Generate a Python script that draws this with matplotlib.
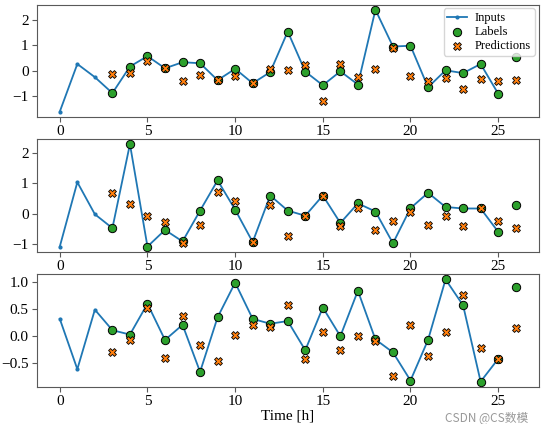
import numpy as np
import matplotlib.pyplot as plt

plt.rcParams['font.family'] = ['Liberation Serif', 'DejaVu Serif']
plt.rcParams['font.size'] = 11

input_t = np.arange(0, 26)
label_t = np.arange(3, 27)

inputs_1 = [-1.62, 0.26, -0.26, -0.89, 0.16, 0.57, 0.09, 0.33, 0.29, -0.38, 0.07, -0.5, -0.06,
            1.54, -0.04, -0.58, -0.03, -0.55, 2.4, 0.95, 0.98, -0.66, 0.01, -0.1, 0.26, -0.91]
labels_1 = [-0.89, 0.16, 0.57, 0.09, 0.33, 0.29, -0.38, 0.07, -0.5, -0.06, 1.54, -0.04,
            -0.58, -0.03, -0.55, 2.4, 0.95, 0.98, -0.66, 0.01, -0.1, 0.26, -0.91, 0.53]
preds_1 = [-0.13, -0.08, 0.36, 0.09, -0.41, -0.17, -0.38, -0.2, -0.5, 0.07, 0.03, 0.21,
           -1.2, 0.25, -0.26, 0.08, 0.88, -0.2, -0.41, -0.3, -0.72, -0.33, -0.41, -0.37]

inputs_2 = [-1.09, 1.04, -0.02, -0.48, 2.3, -1.09, -0.54, -0.92, 0.1, 1.1, 0.13, -0.94, 0.6,
            0.1, -0.07, 0.6, -0.31, 0.34, 0.07, -0.98, 0.18, 0.69, 0.22, 0.17, 0.17, -0.6]
labels_2 = [-0.48, 2.3, -1.09, -0.54, -0.92, 0.1, 1.1, 0.13, -0.94, 0.6, 0.1, -0.07,
            0.6, -0.31, 0.34, 0.07, -0.98, 0.18, 0.69, 0.22, 0.17, 0.17, -0.6, 0.29]
preds_2 = [0.69, 0.33, -0.07, -0.28, -0.97, -0.37, 0.72, 0.43, -0.94, 0.28, -0.74, -0.07,
           0.6, -0.4, 0.19, -0.54, -0.24, 0.04, -0.39, -0.08, -0.41, 0.17, -0.24, -0.48]

inputs_3 = [0.31, -0.62, 0.48, 0.1, 0.02, 0.59, -0.08, 0.2, -0.67, 0.34, 0.98, 0.31, 0.22,
            0.27, -0.27, 0.52, -0.01, 0.83, -0.07, -0.31, -0.83, -0.08, 1.04, 0.56, -0.85, -0.43]
labels_3 = [0.1, 0.02, 0.59, -0.08, 0.2, -0.67, 0.34, 0.98, 0.31, 0.22, 0.27, -0.27,
            0.52, -0.01, 0.83, -0.07, -0.31, -0.83, -0.08, 1.04, 0.56, -0.85, -0.43, 0.9]
preds_3 = [-0.3, -0.08, 0.52, -0.42, 0.36, -0.17, -0.47, 0.02, 0.19, 0.16, 0.56, -0.43,
           0.07, -0.27, -0.01, -0.09, -0.74, 0.19, -0.38, 0.06, 0.75, -0.23, -0.43, 0.14]

yticks = [[-1, 0, 1, 2], [-1, 0, 1, 2], [-0.5, 0.0, 0.5, 1.0]]

series = [(inputs_1, labels_1, preds_1),
          (inputs_2, labels_2, preds_2),
          (inputs_3, labels_3, preds_3)]

fig = plt.figure(figsize=(5.42, 4.24), dpi=100)
W, H = 542, 424
boxes = [(4.7, 116.7), (139, 251.7), (274.3, 386.7)]
left, right = 37, 538.5

for n, ((inp, lab, pred), (top, bot)) in enumerate(zip(series, boxes)):
    ax = fig.add_axes([left / W, 1 - bot / H, (right - left) / W, (bot - top) / H])
    ax.plot(input_t, inp, label='Inputs', marker='.', markersize=4, lw=1.3, zorder=-10)
    ax.scatter(label_t, lab, edgecolors='k', linewidths=0.7, label='Labels',
               c='#2ca02c', s=36)
    ax.scatter(label_t, pred, marker='X', edgecolors='k', linewidths=0.6,
               label='Predictions', c='#ff7f0e', s=32)
    for sp in ax.spines.values():
        sp.set_color('0.35')
    ax.tick_params(color='0.35', length=3.5, pad=2.5)
    ax.set_xticks([0, 5, 10, 15, 20, 25])
    ax.set_yticks(yticks[n])
    if n == 0:
        ax.legend(fontsize=9, loc='upper right', borderpad=0.3, labelspacing=0.15,
                  handlelength=1.6, handletextpad=0.6, borderaxespad=0.3)
    if n == 2:
        ax.set_xlabel('Time [h]', labelpad=1)

fig.text(0.975, 0.0, 'CSDN @CS数模', color='0.6', fontsize=8.5, ha='right', va='bottom',
         family=['Noto Sans CJK SC', 'DejaVu Sans'])

fig.savefig('out.png', dpi=100)
